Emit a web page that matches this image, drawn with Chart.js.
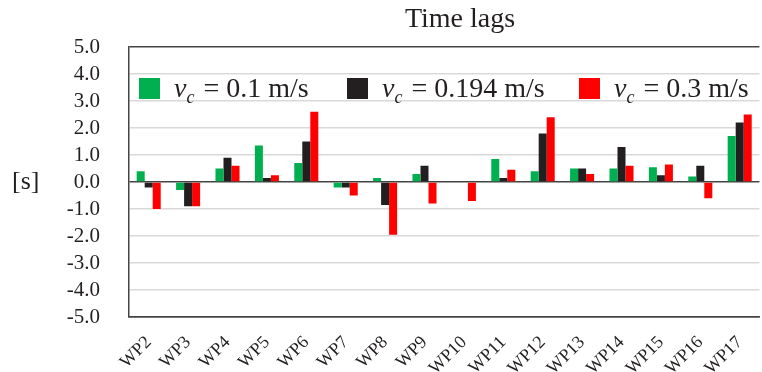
<!DOCTYPE html>
<html>
<head>
<meta charset="utf-8">
<title>Time lags</title>
<script src="https://cdn.jsdelivr.net/npm/chart.js@4.4.0/dist/chart.umd.min.js"></script>
<style>
  html, body { margin: 0; padding: 0; background: #fff; }
  #wrap { width: 762px; height: 372px; position: relative; }
</style>
</head>
<body>
<div id="wrap"><canvas id="lags"></canvas></div>
<script>
// DATA VALUES
var points = ["WP2", "WP3", "WP4", "WP5", "WP6", "WP7", "WP8", "WP9",
              "WP10", "WP11", "WP12", "WP13", "WP14", "WP15", "WP16", "WP17"];
var lagSlow = [0.4, -0.3, 0.5, 1.35, 0.7, -0.2, 0.15, 0.3, 0, 0.85, 0.4, 0.5, 0.5, 0.55, 0.2, 1.7];
var lagMid  = [-0.2, -0.9, 0.9, 0.15, 1.5, -0.2, -0.85, 0.6, 0, 0.15, 1.8, 0.5, 1.3, 0.25, 0.6, 2.2];
var lagFast = [-1.0, -0.9, 0.6, 0.25, 2.6, -0.5, -1.95, -0.8, -0.7, 0.45, 2.4, 0.3, 0.6, 0.65, -0.6, 2.5];
var speeds = ["0.1", "0.194", "0.3"];
var chartTitle = "Time lags";
var unitLabel = "[s]";

var GREEN = "#00b050", BLACK = "#231f20", RED = "#ff0000";
var serif = "'Liberation Serif', 'DejaVu Serif', serif";

// title, unit and legend (italic v with subscript c) drawn by hand
const vcLegend = {
    id: "vcLegend",
    afterDraw(chart) {
        const c = chart.ctx;
        const items = [
            {x: 139, color: GREEN, text: speeds[0]},
            {x: 347, color: BLACK, text: speeds[1]},
            {x: 579, color: RED, text: speeds[2]}
        ];
        const base = 97;
        c.save();
        items.forEach(function (it) {
            c.fillStyle = it.color;
            c.fillRect(it.x, 78, 21, 21);
            let x = it.x + 35;
            c.fillStyle = "#231f20";
            c.textBaseline = "alphabetic";
            c.font = "italic 28px " + serif;
            c.fillText("v", x, base);
            x += c.measureText("v").width;
            c.font = "italic 18px " + serif;
            c.fillText("c", x, base + 6);
            x += c.measureText("c").width + 2;
            c.font = "28px " + serif;
            c.fillText(" = " + it.text + " m/s", x, base);
        });
        // title
        c.font = "28px " + serif;
        c.textAlign = "center";
        c.fillText(chartTitle, 460, 27);
        // unit label
        c.textAlign = "left";
        c.font = "26px " + serif;
        c.textBaseline = "middle";
        c.fillText(unitLabel, 12, chart.scales.y.getPixelForValue(0));
        c.restore();
    }
};

const data = {
    labels: points,
    datasets: [
        {label: "vc = 0.1 m/s", data: lagSlow, backgroundColor: GREEN},
        {label: "vc = 0.194 m/s", data: lagMid, backgroundColor: BLACK},
        {label: "vc = 0.3 m/s", data: lagFast, backgroundColor: RED}
    ]
};

const config = {
    type: "bar",
    data: data,
    options: {
        responsive: true,
        maintainAspectRatio: false,
        animation: false,
        layout: { padding: { left: 0, right: 1, top: 47, bottom: 0 } },
        datasets: { bar: { categoryPercentage: 0.61, barPercentage: 1.0 } },
        plugins: {
            legend: { display: false },
            tooltip: { enabled: false },
            title: { display: false }
        },
        scales: {
            x: {
                grid: { display: false },
                border: { display: true, color: "#444", width: 1.5 },
                ticks: {
                    color: "#231f20",
                    font: { family: serif, size: 18 },
                    minRotation: 45,
                    maxRotation: 45,
                    autoSkip: false,
                    padding: 7
                },
                afterFit: function (scale) { scale.height = 55; }
            },
            y: {
                min: -5,
                max: 5,
                ticks: {
                    stepSize: 1,
                    autoSkip: false,
                    color: "#231f20",
                    font: { family: serif, size: 21 },
                    padding: 29,
                    callback: function (v) { return v.toFixed(1); }
                },
                grid: {
                    drawTicks: false,
                    lineWidth: 1.5,
                    color: function (ctx) {
                        var v = ctx.tick ? ctx.tick.value : null;
                        return (v === 0 || v === 5 || v === -5) ? "#444" : "#d9d9d9";
                    }
                },
                border: { display: true, color: "#444", width: 1.5 },
                afterFit: function (scale) { scale.width = 129; }
            }
        }
    },
    plugins: [vcLegend]
};

const lagChart = new Chart("lags", config);
</script>
</body>
</html>
